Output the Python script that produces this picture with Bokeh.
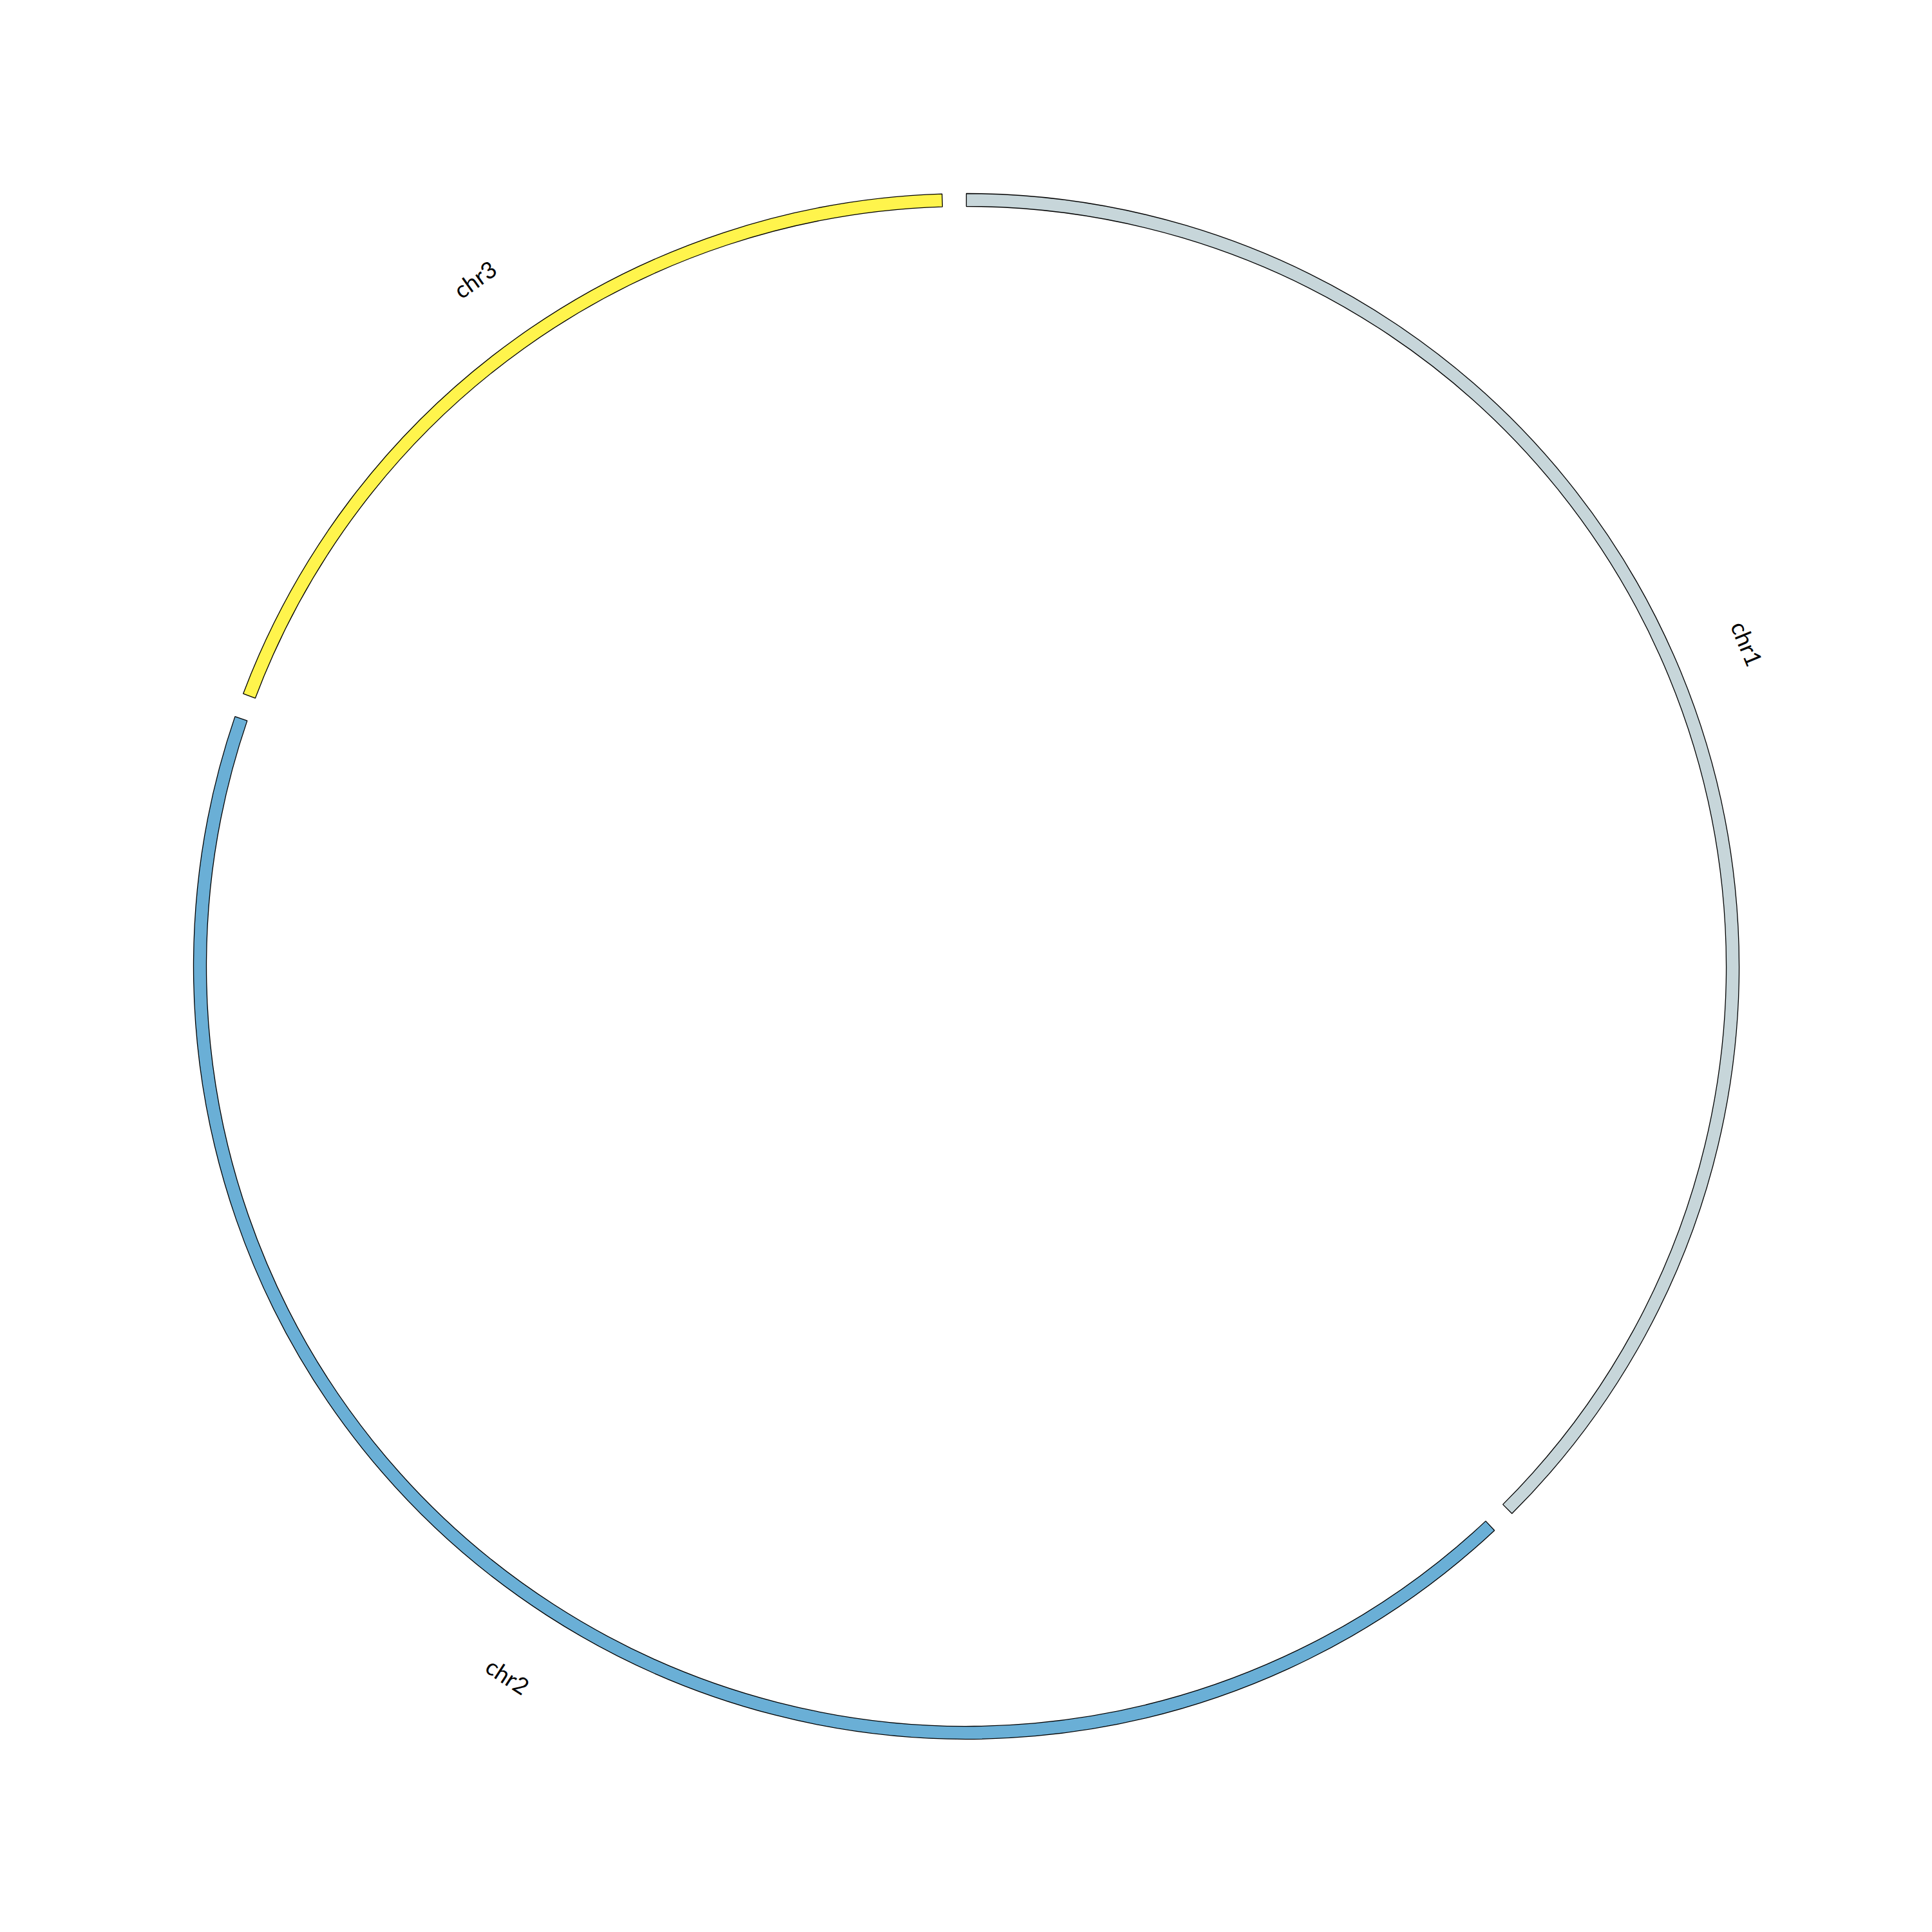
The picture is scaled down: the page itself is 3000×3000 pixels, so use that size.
import numpy as np
from bokeh.plotting import figure
from bokeh.models import ColumnDataSource
from bokeh.core.properties import value
from bokeh.embed import file_html
from bokeh.resources import INLINE

# data
chrom_names = ["chr1", "chr2", "chr3"]
chrom_sizes = [200, 225, 100]
chrom_colors = ["#c7d6da", "#6aafd6", "#fff44c"]

GAP_DEG = 1.8
R_IN, R_OUT = 1180, 1200
R_LABEL = 1312

total_deg = 360 - GAP_DEG * len(chrom_sizes)
sizes = np.array(chrom_sizes, dtype=float)
spans = sizes / sizes.sum() * total_deg
starts = []
cur = 0.0
for s in spans:
    starts.append(cur)
    cur += s + GAP_DEG
starts = np.array(starts)
ends = starts + spans
mids = (starts + ends) / 2

# clockwise from 12 o'clock -> bokeh angles (ccw from +x)
b_start = np.deg2rad(90 - ends)
b_end = np.deg2rad(90 - starts)

src = ColumnDataSource(dict(x=[0] * 3, y=[0] * 3, s=b_start, e=b_end, c=chrom_colors))

W = 2984
p = figure(width=W, height=W, x_range=(-1500, W - 1500), y_range=(1500 - W, 1500),
           output_backend="svg", toolbar_location=None, min_border=0,
           background_fill_color="white", border_fill_color="white")
p.axis.visible = False
p.grid.visible = False
p.outline_line_color = None

p.annular_wedge(x="x", y="y", inner_radius=R_IN, outer_radius=R_OUT,
                start_angle="s", end_angle="e", fill_color="c",
                line_color="black", line_width=1.3, source=src)

# labels
rad = np.deg2rad(mids)
lx = R_LABEL * np.sin(rad)
ly = R_LABEL * np.cos(rad)
rot = []
for m in mids:
    r = -m
    if 90 < m < 270:
        r = -m + 180
    rot.append(np.deg2rad(r))
lsrc = ColumnDataSource(dict(x=lx, y=ly, t=chrom_names, a=rot))
p.text(x="x", y="y", text="t", angle="a", source=lsrc,
       text_font=value("Lato"), text_font_size="36px",
       text_align="center", text_baseline="middle", text_color="black")

open("out.html", "w").write(file_html(p, INLINE))
